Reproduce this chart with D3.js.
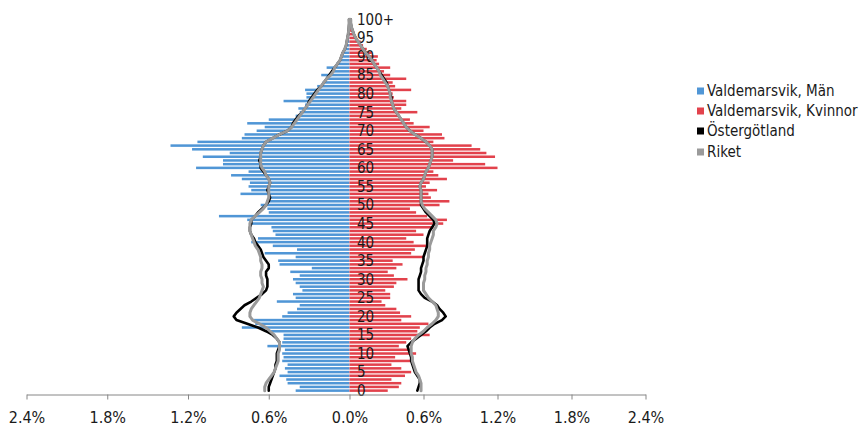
<!DOCTYPE html>
<html>
<head>
<meta charset="utf-8">
<script src="https://cdn.jsdelivr.net/npm/d3@7"></script>
<style>
  body { margin: 0; background: #fff; }
  text { font-family: "DejaVu Sans Condensed", "DejaVu Sans", sans-serif; font-stretch: condensed; fill: #1a1a1a; }
</style>
</head>
<body>
<script>
// ages 0..100 (100 = 100+)
const ages = d3.range(0, 101);
const ageTicks = [0, 5, 10, 15, 20, 25, 30, 35, 40, 45, 50, 55, 60, 65, 70, 75, 80, 85, 90, 95, 100];
const ageTickLabels = ["0", "5", "10", "15", "20", "25", "30", "35", "40", "45", "50", "55", "60", "65", "70", "75", "80", "85", "90", "95", "100+"];
const xTicks = [-2.4, -1.8, -1.2, -0.6, 0, 0.6, 1.2, 1.8, 2.4];

const seriesNames = ["Valdemarsvik, Män", "Valdemarsvik, Kvinnor", "Östergötland", "Riket"];

// share of total population, percent
const menValdemarsvik = [
  0.40, 0.37, 0.46, 0.47, 0.52, 0.46, 0.48, 0.46, 0.50, 0.49,
  0.50, 0.48, 0.61, 0.50, 0.49, 0.49, 0.62, 0.80, 0.70, 0.72,
  0.50, 0.46, 0.39, 0.37, 0.54, 0.40, 0.42, 0.35, 0.37, 0.40,
  0.42, 0.37, 0.44, 0.28, 0.52, 0.53, 0.40, 0.63, 0.39, 0.57,
  0.73, 0.68, 0.55, 0.57, 0.58, 0.74, 0.76, 0.97, 0.60, 0.61,
  0.66, 0.62, 0.59, 0.81, 0.73, 0.75, 0.74, 0.80, 0.88, 0.75,
  1.14, 0.94, 0.94, 1.09, 0.89, 1.17, 1.33, 1.13, 0.80, 0.78,
  0.69, 0.63, 0.76, 0.60, 0.40, 0.37, 0.38, 0.33, 0.49, 0.32,
  0.32, 0.33, 0.24, 0.20, 0.17, 0.21, 0.12, 0.17, 0.10, 0.07,
  0.06, 0.05, 0.03, 0.02, 0.02, 0.01, 0.01, 0.005, 0.003, 0.002, 0.003
];
const womenValdemarsvik = [
  0.31, 0.40, 0.42, 0.34, 0.45, 0.50, 0.42, 0.34, 0.50, 0.37,
  0.54, 0.49, 0.40, 0.46, 0.50, 0.65, 0.55, 0.57, 0.64, 0.42,
  0.50, 0.41, 0.38, 0.29, 0.26, 0.33, 0.33, 0.29, 0.36, 0.38,
  0.47, 0.36, 0.31, 0.38, 0.43, 0.35, 0.60, 0.50, 0.53, 0.64,
  0.52, 0.46, 0.60, 0.54, 0.68, 0.76, 0.79, 0.63, 0.54, 0.49,
  0.73, 0.81, 0.66, 0.64, 0.71, 0.62, 0.65, 0.79, 0.72, 0.68,
  1.20, 1.10, 0.84, 1.18, 1.11, 1.06, 0.99, 0.68, 0.77, 0.75,
  0.60, 0.65, 0.52, 0.49, 0.40, 0.55, 0.42, 0.46, 0.46, 0.36,
  0.35, 0.50, 0.37, 0.35, 0.46, 0.33, 0.28, 0.33, 0.24, 0.22,
  0.23, 0.18, 0.14, 0.11, 0.09, 0.05, 0.04, 0.02, 0.015, 0.01, 0.01
];
const menOstergotland = [
  0.60, 0.60, 0.59, 0.58, 0.57, 0.56, 0.55, 0.55, 0.54, 0.54,
  0.54, 0.53, 0.52, 0.52, 0.54, 0.57, 0.62, 0.68, 0.76, 0.84,
  0.86, 0.84, 0.81, 0.78, 0.73, 0.69, 0.65, 0.62, 0.61, 0.61,
  0.61, 0.62, 0.62, 0.60, 0.60, 0.62, 0.64, 0.65, 0.66, 0.68,
  0.70, 0.71, 0.73, 0.74, 0.74, 0.73, 0.73, 0.70, 0.68, 0.65,
  0.62, 0.60, 0.59, 0.60, 0.61, 0.60, 0.59, 0.60, 0.62, 0.64,
  0.66, 0.66, 0.67, 0.66, 0.66, 0.65, 0.64, 0.62, 0.57, 0.52,
  0.46, 0.43, 0.42, 0.40, 0.38, 0.35, 0.33, 0.31, 0.30, 0.28,
  0.26, 0.24, 0.21, 0.19, 0.17, 0.15, 0.13, 0.11, 0.09, 0.07,
  0.06, 0.05, 0.035, 0.025, 0.02, 0.015, 0.01, 0.006, 0.004, 0.002, 0.003
];
const menRiket = [
  0.63, 0.63, 0.62, 0.60, 0.58, 0.56, 0.55, 0.54, 0.53, 0.53,
  0.53, 0.52, 0.52, 0.52, 0.54, 0.56, 0.59, 0.62, 0.67, 0.72,
  0.74, 0.74, 0.73, 0.71, 0.69, 0.67, 0.66, 0.65, 0.64, 0.65,
  0.65, 0.66, 0.66, 0.65, 0.65, 0.66, 0.66, 0.67, 0.68, 0.70,
  0.71, 0.72, 0.73, 0.74, 0.74, 0.74, 0.73, 0.70, 0.67, 0.64,
  0.62, 0.61, 0.60, 0.60, 0.60, 0.60, 0.59, 0.60, 0.62, 0.63,
  0.65, 0.66, 0.66, 0.66, 0.66, 0.65, 0.64, 0.62, 0.57, 0.52,
  0.46, 0.43, 0.41, 0.39, 0.37, 0.35, 0.33, 0.31, 0.29, 0.27,
  0.25, 0.23, 0.21, 0.19, 0.17, 0.14, 0.12, 0.11, 0.09, 0.07,
  0.06, 0.05, 0.035, 0.025, 0.02, 0.015, 0.01, 0.006, 0.004, 0.002, 0.003
];
const womenOstergotland = [
  0.55, 0.56, 0.57, 0.57, 0.55, 0.53, 0.52, 0.51, 0.50, 0.50,
  0.49, 0.48, 0.47, 0.50, 0.54, 0.58, 0.62, 0.65, 0.69, 0.75,
  0.78, 0.76, 0.73, 0.71, 0.67, 0.61, 0.58, 0.56, 0.56, 0.56,
  0.56, 0.57, 0.58, 0.58, 0.59, 0.60, 0.60, 0.61, 0.62, 0.63,
  0.63, 0.63, 0.64, 0.65, 0.67, 0.69, 0.68, 0.65, 0.62, 0.60,
  0.58, 0.58, 0.58, 0.58, 0.58, 0.57, 0.58, 0.60, 0.61, 0.62,
  0.64, 0.65, 0.66, 0.67, 0.67, 0.67, 0.65, 0.62, 0.58, 0.53,
  0.49, 0.46, 0.44, 0.42, 0.40, 0.38, 0.36, 0.35, 0.34, 0.34,
  0.33, 0.32, 0.31, 0.30, 0.28, 0.26, 0.24, 0.22, 0.20, 0.18,
  0.16, 0.13, 0.11, 0.09, 0.07, 0.05, 0.035, 0.025, 0.015, 0.01, 0.01
];
const womenRiket = [
  0.58, 0.58, 0.58, 0.57, 0.56, 0.54, 0.53, 0.52, 0.51, 0.51,
  0.50, 0.50, 0.50, 0.51, 0.53, 0.56, 0.60, 0.63, 0.67, 0.70,
  0.72, 0.72, 0.71, 0.70, 0.67, 0.64, 0.62, 0.60, 0.60, 0.60,
  0.61, 0.61, 0.62, 0.62, 0.63, 0.63, 0.64, 0.64, 0.65, 0.65,
  0.66, 0.67, 0.68, 0.68, 0.70, 0.71, 0.70, 0.67, 0.64, 0.61,
  0.59, 0.58, 0.58, 0.58, 0.58, 0.57, 0.58, 0.60, 0.61, 0.62,
  0.64, 0.65, 0.66, 0.67, 0.67, 0.67, 0.65, 0.62, 0.58, 0.53,
  0.49, 0.46, 0.44, 0.42, 0.40, 0.38, 0.36, 0.35, 0.34, 0.33,
  0.33, 0.32, 0.31, 0.29, 0.27, 0.25, 0.24, 0.22, 0.20, 0.18,
  0.16, 0.13, 0.11, 0.09, 0.07, 0.05, 0.035, 0.025, 0.015, 0.01, 0.01
];

const colors = {
  men: "#5096d6",
  women: "#e2424c",
  ost: "#000000",
  riket: "#9a9a9a"
};

let main = () => {
  const width = 860, height = 435;

  const svg = d3.select("body").append("svg")
    .attr("width", width)
    .attr("height", height);

  // men to the left as negative values; the two halves are not quite the same width
  const x = d3.scaleLinear()
    .domain([-2.4, 0, 2.4])
    .range([26.5, 349.5, 645.5]);

  const y = d3.scaleBand()
    .domain(ages)
    .range([391.9, 18.1])
    .paddingInner(0.32);

  const yc = a => y(a) + y.bandwidth() / 2;

  // bars
  svg.append("g").selectAll("rect")
    .data(ages)
    .enter().append("rect")
    .attr("x", a => x(-menValdemarsvik[a]))
    .attr("y", a => y(a))
    .attr("width", a => x(0) - x(-menValdemarsvik[a]))
    .attr("height", y.bandwidth())
    .attr("fill", colors.men);

  svg.append("g").selectAll("rect")
    .data(ages)
    .enter().append("rect")
    .attr("x", x(0))
    .attr("y", a => y(a))
    .attr("width", a => x(womenValdemarsvik[a]) - x(0))
    .attr("height", y.bandwidth())
    .attr("fill", colors.women);

  // age labels
  svg.append("g").selectAll("text")
    .data(ageTicks)
    .enter().append("text")
    .attr("x", 357)
    .attr("y", a => yc(a))
    .attr("dy", "0.36em")
    .attr("font-size", 15)
    .text((a, i) => ageTickLabels[i]);

  // comparison lines
  const lineLeft = d3.line().x(d => x(-d.v)).y(d => yc(d.a));
  const lineRight = d3.line().x(d => x(d.v)).y(d => yc(d.a));
  const pts = arr => ages.map(a => ({a, v: arr[a]}));

  const drawLine = (arr, gen, color, w) => {
    svg.append("path")
      .attr("d", gen(pts(arr)))
      .attr("fill", "none")
      .attr("stroke", color)
      .attr("stroke-width", w)
      .attr("stroke-linejoin", "round")
      .attr("stroke-linecap", "round");
  };
  drawLine(menOstergotland, lineLeft, colors.ost, 2.6);
  drawLine(womenOstergotland, lineRight, colors.ost, 2.6);
  drawLine(menRiket, lineLeft, colors.riket, 3);
  drawLine(womenRiket, lineRight, colors.riket, 3);

  // x axis
  const axis = svg.append("g")
    .attr("transform", "translate(0,394.5)")
    .call(d3.axisBottom(x)
      .tickValues(xTicks)
      .tickSizeInner(5)
      .tickSizeOuter(0)
      .tickPadding(12)
      .tickFormat(d => Math.abs(d).toFixed(1) + "%"));
  axis.select(".domain").attr("stroke", "#868686");
  axis.selectAll(".tick line").attr("stroke", "#868686");
  axis.selectAll(".tick text")
    .attr("font-size", 16)
    .attr("font-family", null)
    .attr("fill", "#1a1a1a");

  // legend
  const legendColors = [colors.men, colors.women, colors.ost, colors.riket];
  const legendY = [91, 111, 131, 152];
  const legend = svg.append("g").selectAll("g")
    .data(seriesNames)
    .enter().append("g")
    .attr("transform", (d, i) => `translate(697,${legendY[i]})`);
  legend.append("rect")
    .attr("x", 0).attr("y", -3.5)
    .attr("width", 7).attr("height", 7)
    .attr("fill", (d, i) => legendColors[i]);
  legend.append("text")
    .attr("x", 10)
    .attr("dy", "0.36em")
    .attr("font-size", 15)
    .text(d => d);
};

main();
</script>
</body>
</html>
